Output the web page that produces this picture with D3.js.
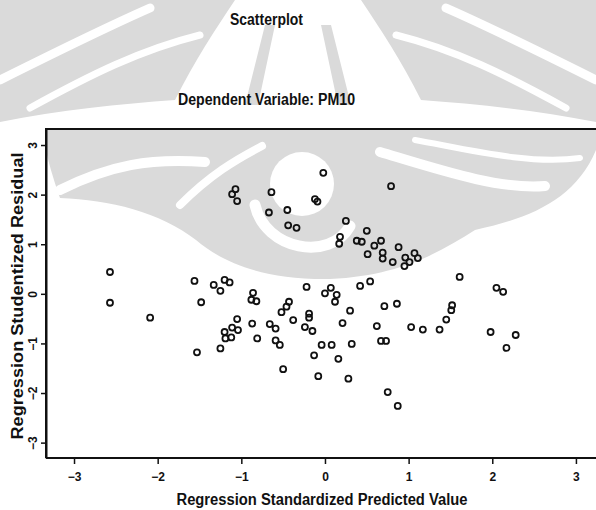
<!DOCTYPE html>
<html>
<head>
<meta charset="utf-8">
<script src="https://cdn.jsdelivr.net/npm/d3@7"></script>
<style>
  body { margin: 0; background: #fff; }
  svg text { font-family: "Liberation Sans Narrow", "Arial Narrow", "Liberation Sans", sans-serif; font-weight: bold; fill: #111; }
</style>
</head>
<body>
<svg id="chart" width="596" height="510"></svg>
<script>
// regression standardized predicted value (x) and studentized residual (y)
const predicted = [
  -2.57, -2.57, -2.09, -1.56, -1.48, -1.53, -1.33, -1.25, -1.20, -1.14,
  -1.25, -1.05, -1.11, -1.04, -1.20, -1.12, -1.19, -1.07, -1.11, -1.05,
  -0.64, -0.67, -0.45, -0.44, -0.34, -0.02, -0.12, -0.09, 0.25, 0.18,
  0.17, 0.50, 0.38, 0.44, 0.67, 0.59, 0.51, 0.69, 0.69, 0.81,
  0.88, 0.79, 0.96, 0.95, 1.01, 1.07, 1.11, -0.86, -0.88, -0.82,
  -0.22, 0.00, 0.07, 0.14, 0.12, 0.42, 0.54, 0.30, 0.71, 0.86,
  1.61, 2.05, 2.13, 1.52, 1.51, 1.45, -0.43, -0.46, -0.52, -0.38,
  -0.19, -0.19, -0.24, -0.15, -0.87, -0.81, -0.66, -0.59, -0.59, -0.54,
  -0.50, -0.08, -0.13, -0.04, 0.08, 0.16, 0.21, 0.28, 0.32, 0.62,
  0.67, 0.73, 0.75, 0.87, 1.03, 1.17, 1.37, 1.98, 2.28, 2.17
];
const residual = [
  0.44, -0.18, -0.48, 0.26, -0.17, -1.18, 0.18, 0.06, 0.28, 0.23,
  -1.10, -0.51, -0.68, -0.73, -0.77, -0.88, -0.90, 2.11, 2.01, 1.87,
  2.05, 1.64, 1.69, 1.38, 1.33, 2.44, 1.91, 1.86, 1.47, 1.15,
  1.01, 1.27, 1.07, 1.05, 1.07, 0.97, 0.80, 0.83, 0.71, 0.64,
  0.94, 2.17, 0.73, 0.56, 0.64, 0.82, 0.72, 0.02, -0.12, -0.15,
  0.14, 0.01, 0.12, -0.02, -0.16, 0.16, 0.25, -0.34, -0.25, -0.20,
  0.34, 0.12, 0.04, -0.23, -0.33, -0.52, -0.16, -0.26, -0.37, -0.53,
  -0.40, -0.48, -0.67, -0.75, -0.60, -0.90, -0.61, -0.70, -0.94, -1.03,
  -1.52, -1.66, -1.24, -1.03, -1.03, -1.31, -0.59, -1.71, -1.01, -0.65,
  -0.95, -0.95, -1.98, -2.26, -0.67, -0.72, -0.72, -0.77, -0.83, -1.09
];
const xTicks = [-3, -2, -1, 0, 1, 2, 3];
const yTicks = [-3, -2, -1, 0, 1, 2, 3];

const chartTitle = "Scatterplot";
const subTitle = "Dependent Variable: PM10";
const xTitle = "Regression Standardized Predicted Value";
const yTitle = "Regression Studentized Residual";

const points = predicted.map((x, i) => ({x: x, y: residual[i]}));

const margin = {top: 129, right: 0, bottom: 52, left: 46},
      width = 596 - margin.left - margin.right,
      height = 510 - margin.top - margin.bottom;

const svg = d3.select("#chart");

// faint scanned watermark behind the chart
const wm = svg.append("g").attr("class", "watermark");
const grey = "#dadada";
const wmShapes = [
  "M0,0 L235,0 C215,30 195,60 175,100 C120,104 60,110 0,122 Z",
  "M596,0 L361,0 C381,30 401,60 421,100 C476,104 536,110 596,122 Z",
  "M46,129 L596,129 L596,150 C575,200 530,218 475,230 C440,252 400,276 330,279 C262,280 222,262 196,240 C160,212 110,200 60,198 C52,175 48,160 46,150 Z"
];
wm.selectAll("path.fill").data(wmShapes).enter().append("path")
    .attr("class", "fill").attr("d", d => d).attr("fill", grey);
const wmStrokes = [
  {d: "M0,80 C50,55 100,30 150,8", w: 9},
  {d: "M30,108 C90,75 140,50 200,35", w: 7},
  {d: "M596,80 C546,55 496,30 446,8", w: 9},
  {d: "M566,108 C506,75 456,50 396,35", w: 7},
  {d: "M60,190 C110,165 150,158 205,162", w: 10},
  {d: "M180,205 C210,175 235,160 262,146", w: 8},
  {d: "M380,152 C440,170 500,190 545,186", w: 10},
  {d: "M415,140 C470,150 530,165 580,158", w: 6},
  {d: "M255,205 C265,250 330,262 350,226", w: 11}
];
wm.selectAll("path.cut").data(wmStrokes).enter().append("path")
    .attr("class", "cut").attr("d", d => d.d).attr("fill", "none")
    .attr("stroke", "#fff").attr("stroke-width", d => d.w).attr("stroke-linecap", "round");
wm.append("circle").attr("cx", 302).attr("cy", 184).attr("r", 32).attr("fill", "#fff");
wm.append("path").attr("d", "M245,105 L265,25 L275,25 L258,105 Z M351,105 L331,25 L321,25 L338,105 Z").attr("fill", grey);

const g = svg.append("g")
    .attr("transform", `translate(${margin.left},${margin.top})`);

const xScale = d3.scaleLinear()
    .domain([-3.335, 3.24])
    .range([0, width]);

const yScale = d3.scaleLinear()
    .domain([-3.31, 3.323])
    .range([height, 0]);

// frame (right side runs off the page)
g.append("path")
    .attr("d", `M0,${height} L0,0 L${width + 10},0`)
    .attr("fill", "none")
    .attr("stroke", "#111")
    .attr("stroke-width", 2);

const xAxis = g.append("g")
    .attr("transform", `translate(0,${height})`)
    .call(d3.axisBottom(xScale).tickValues(xTicks).tickSize(6).tickSizeOuter(0).tickPadding(8).tickFormat(d3.format("d")));

const yAxis = g.append("g")
    .call(d3.axisLeft(yScale).tickValues(yTicks).tickSize(5).tickSizeOuter(0).tickFormat(d3.format("d")));

[xAxis, yAxis].forEach(a => {
  a.select(".domain").attr("stroke", "#111").attr("stroke-width", 2);
  a.selectAll(".tick line").attr("stroke", "#111").attr("stroke-width", 1.5);
  a.selectAll(".tick text").style("font-size", "12px").attr("fill", "#111");
});
xAxis.select(".domain").attr("d", `M0,0H${width + 10}`);

yAxis.selectAll(".tick text")
    .attr("x", null)
    .attr("dy", "0.35em")
    .attr("text-anchor", "middle")
    .attr("transform", "translate(-13,0) rotate(-90)");

g.selectAll("circle.pt")
    .data(points)
    .enter().append("circle")
    .attr("class", "pt")
    .attr("cx", d => xScale(d.x))
    .attr("cy", d => yScale(d.y))
    .attr("r", 3)
    .attr("fill", "none")
    .attr("stroke", "#111")
    .attr("stroke-width", 1.8);

svg.append("text")
    .attr("x", 266.5).attr("y", 25)
    .attr("text-anchor", "middle")
    .attr("textLength", 73).attr("lengthAdjust", "spacingAndGlyphs")
    .style("font-size", "16px")
    .text(chartTitle);

svg.append("text")
    .attr("x", 266.5).attr("y", 105)
    .attr("text-anchor", "middle")
    .attr("textLength", 177).attr("lengthAdjust", "spacingAndGlyphs")
    .style("font-size", "16px")
    .text(subTitle);

svg.append("text")
    .attr("x", 322).attr("y", 505)
    .attr("text-anchor", "middle")
    .attr("textLength", 291).attr("lengthAdjust", "spacingAndGlyphs")
    .style("font-size", "16px")
    .text(xTitle);

svg.append("text")
    .attr("transform", "rotate(-90)")
    .attr("x", -296).attr("y", 23)
    .attr("text-anchor", "middle")
    .attr("textLength", 287).attr("lengthAdjust", "spacingAndGlyphs")
    .style("font-size", "16px")
    .text(yTitle);
</script>
</body>
</html>
